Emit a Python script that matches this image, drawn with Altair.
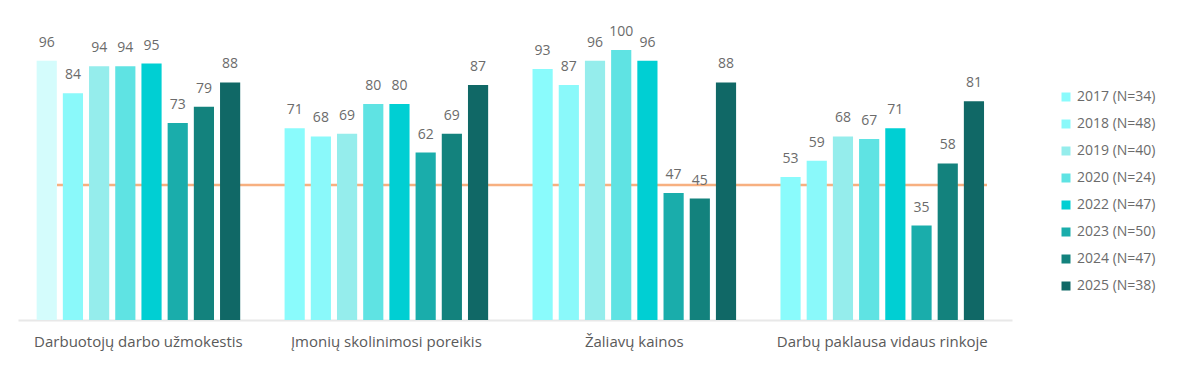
import altair as alt
import pandas as pd

categories = ["Darbuotojų darbo užmokestis", "Įmonių skolinimosi poreikis",
              "Žaliavų kainos", "Darbų paklausa vidaus rinkoje"]
series = ["2017 (N=34)", "2018 (N=48)", "2019 (N=40)", "2020 (N=24)",
          "2022 (N=47)", "2023 (N=50)", "2024 (N=47)", "2025 (N=38)"]
values = {
    "Darbuotojų darbo užmokestis": [96, 84, 94, 94, 95, 73, 79, 88],
    "Įmonių skolinimosi poreikis": [71, 68, 69, 80, 80, 62, 69, 87],
    "Žaliavų kainos": [93, 87, 96, 100, 96, 47, 45, 88],
    "Darbų paklausa vidaus rinkoje": [53, 59, 68, 67, 71, 35, 58, 81],
}
colors = ["#8AFBFC", "#8AF9FA", "#95EDEC", "#5FE3E3", "#00CFD3",
          "#1AADAB", "#13827D", "#106866"]
reference_value = 50

rows = []
for c in categories:
    for s, v in zip(series, values[c]):
        rows.append({"cat": c, "series": s, "value": v})
df = pd.DataFrame(rows)

FONT = "Open Sans"
W, H = 994, 270

x = alt.X("cat:N", sort=categories, title=None,
          scale=alt.Scale(paddingInner=0.179, paddingOuter=0.094, align=0.4),
          axis=alt.Axis(labelAngle=0, labelFontSize=15, labelColor="#5a5a5a",
                        labelFont=FONT, labelPadding=14, ticks=False, labelLimit=0,
                        domainColor="#E8E8E8", domainWidth=2, grid=False))
xo = alt.XOffset("series:N", sort=series,
                 scale=alt.Scale(paddingInner=0.23, paddingOuter=0))
y = alt.Y("value:Q", scale=alt.Scale(domain=[0, 100]), axis=None)

base = alt.Chart(df).encode(x=x, xOffset=xo, y=y)

bars = base.mark_bar().encode(
    color=alt.condition(
        (alt.datum.cat == categories[0]) & (alt.datum.series == series[0]),
        alt.value("#D4FCFC"),
        alt.Color("series:N", sort=series,
                  scale=alt.Scale(domain=series, range=colors),
                  legend=alt.Legend(title=None, orient="none", legendX=1041, legendY=40,
                                    symbolType="square", symbolSize=81,
                                    symbolStrokeWidth=0,
                                    labelFontSize=14, labelColor="#6b6b6b",
                                    labelFont=FONT, rowPadding=13, labelOffset=4))
    )
)

labels = base.mark_text(baseline="bottom", dy=-11, fontSize=14,
                        color="#6b6b6b", font=FONT).encode(text="value:Q")

ref = alt.Chart(pd.DataFrame({"v": [reference_value]})).mark_rule(
    color="#F7B080", strokeWidth=2.5).encode(
    y=alt.Y("v:Q", scale=alt.Scale(domain=[0, 100]), axis=None),
    x=alt.value(39), x2=alt.value(969))

chart = alt.layer(ref, bars, labels).properties(
    width=W, height=H,
    autosize=alt.AutoSizeParams(type="none"),
    padding={"left": 10, "top": 42, "right": 180, "bottom": 45},
    background="white",
).configure_view(stroke=None)

chart.save("out.html", embed_options={"renderer": "svg", "actions": False})
